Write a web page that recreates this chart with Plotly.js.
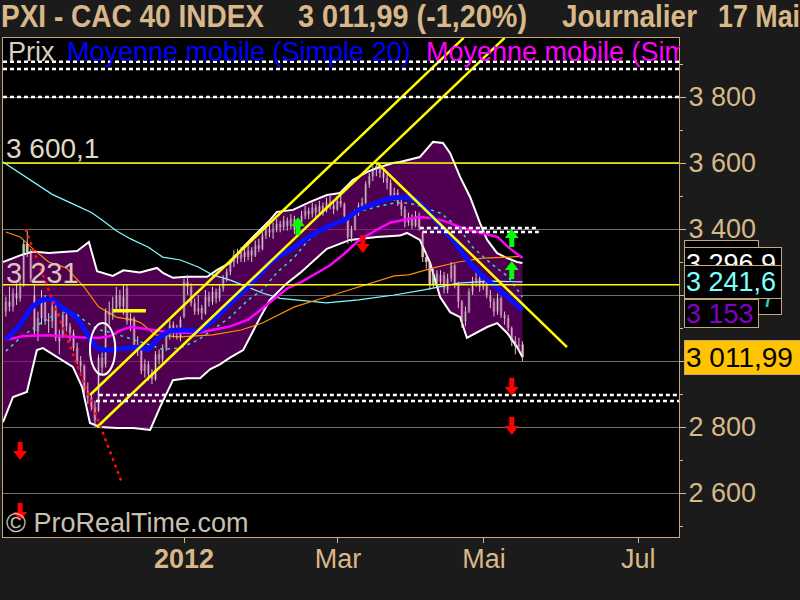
<!DOCTYPE html>
<html><head><meta charset="utf-8">
<script src="https://cdn.plot.ly/plotly-3.0.1.min.js"></script>
<style>html,body{margin:0;padding:0;background:#1b1b1b;overflow:hidden}#chart{width:800px;height:600px}</style>
</head><body><div id="chart"></div>
<script>
// ---------- DATA (daily bars, index 0 = 2 Jan 2012) ----------
const firstBar = -50;
const open = [3150,3180,3165,3205,3190,3230,3355,3330,3200,3090,
 3130,3190,3125,3120,3165,3060,3075,3140,3105,3085,
 3040,3000,2985,2910,2890,2860,2850,3010,2990,3150,
 3140,3160,3200,3165,3220,3120,3130,3050,3040,2970,
 2990,2960,2945,3020,3005,3040,3080,3110,3085,3070,
 3135,3240,3225,3175,3150,3160,3145,3195,3180,3210,
 3190,3220,3250,3270,3300,3320,3310,3330,3315,3335,
 3320,3350,3340,3380,3395,3390,3400,3415,3405,3425,
 3410,3430,3400,3420,3440,3455,3445,3465,3450,3470,
 3455,3480,3470,3460,3485,3475,3430,3375,3400,3450,
 3470,3480,3535,3560,3580,3590,3570,3555,3540,3500,
 3510,3480,3460,3420,3435,3410,3440,3390,3315,3300,
 3230,3265,3240,3260,3215,3250,3290,3230,3180,3120,
 3150,3210,3240,3250,3225,3240,3200,3180,3150,3190,
 3140,3130,3100,3060,3045,3050];
const high = [3195,3225,3220,3235,3240,3365,3395,3340,3230,3150,
 3215,3200,3145,3180,3175,3095,3150,3155,3115,3095,
 3055,3015,2990,2935,2905,2880,3020,3030,3160,3180,
 3195,3225,3215,3230,3230,3145,3135,3075,3045,3005,
 3000,2975,3030,3035,3050,3090,3130,3120,3110,3135,
 3250,3260,3235,3190,3200,3170,3215,3210,3225,3220,
 3230,3260,3280,3310,3335,3340,3345,3350,3360,3345,
 3365,3370,3390,3410,3415,3420,3430,3425,3440,3435,
 3445,3440,3430,3455,3470,3465,3480,3475,3485,3480,
 3495,3500,3485,3500,3505,3480,3440,3410,3460,3480,
 3495,3545,3570,3590,3600,3595,3585,3565,3550,3525,
 3520,3490,3470,3450,3445,3455,3450,3395,3330,3305,
 3280,3275,3275,3270,3265,3300,3295,3240,3185,3165,
 3220,3255,3270,3260,3255,3245,3215,3190,3205,3195,
 3150,3140,3105,3075,3070,3060];
const low = [3135,3150,3150,3170,3180,3225,3315,3240,3080,3060,
 3110,3110,3085,3100,3060,3020,3070,3090,3060,3030,
 2990,2965,2900,2870,2850,2800,2845,2960,2980,3110,
 3125,3150,3150,3140,3110,3090,3040,3015,2960,2950,
 2940,2930,2940,2990,2995,3030,3065,3070,3065,3060,
 3130,3200,3165,3140,3140,3125,3140,3165,3170,3175,
 3180,3210,3240,3260,3285,3295,3300,3300,3305,3300,
 3315,3330,3335,3370,3375,3370,3390,3390,3395,3395,
 3400,3385,3390,3410,3430,3430,3435,3435,3440,3440,
 3450,3460,3445,3455,3465,3430,3355,3360,3395,3440,
 3455,3475,3525,3545,3560,3555,3540,3520,3490,3485,
 3470,3440,3405,3410,3400,3405,3395,3300,3280,3215,
 3220,3225,3230,3205,3205,3240,3220,3160,3100,3105,
 3145,3200,3225,3210,3215,3190,3160,3135,3140,3130,
 3110,3090,3045,3020,3030,3000];
const close = [3180,3165,3205,3190,3225,3355,3330,3250,3090,3130,
 3190,3125,3120,3165,3070,3075,3140,3105,3085,3040,
 3000,2985,2910,2890,2860,2820,3010,2980,3150,3140,
 3160,3200,3165,3195,3120,3130,3050,3040,2970,2990,
 2960,2945,3020,3005,3040,3080,3110,3085,3100,3125,
 3240,3225,3175,3150,3160,3145,3195,3180,3210,3190,
 3220,3250,3270,3300,3320,3310,3330,3315,3335,3320,
 3350,3340,3380,3395,3390,3400,3415,3405,3425,3410,
 3430,3400,3420,3440,3455,3445,3465,3450,3470,3455,
 3480,3470,3460,3485,3475,3440,3375,3400,3450,3470,
 3480,3535,3560,3580,3590,3570,3555,3540,3500,3510,
 3480,3460,3420,3435,3410,3440,3405,3315,3300,3230,
 3265,3240,3260,3220,3250,3290,3230,3180,3120,3150,
 3210,3240,3250,3225,3240,3200,3180,3150,3190,3140,
 3130,3100,3060,3045,3050,3012];

// Moving averages
const sma20X = [-50,-46,-43,-40,-37,-34,-31,-29,-27,-25,-23,-20,-17,-13,-10,-7,-4,0,4,8,13,18,22,24,26,31,35,40,45,49,54,58,62,65,68,72,76,80,84,88,92,95];
const sma20Y = [3065,3110,3160,3185,3188,3160,3140,3115,3078,3045,3033,3035,3040,3042,3035,3070,3092,3095,3090,3120,3175,3224,3270,3297,3312,3345,3376,3406,3427,3458,3479,3494,3497,3490,3460,3410,3360,3300,3255,3220,3185,3155];
const sma50X = [-50,-45,-38,-30,-24,-21,-18,-15,-10,-5,0,4,8,13,18,22,25,29,33,37,41,45,49,54,58,62,66,70,74,78,84,88,91,95];
const sma50Y = [3064,3076,3078,3072,3070,3075,3092,3103,3096,3088,3086,3085,3094,3105,3125,3160,3185,3220,3240,3265,3290,3325,3365,3397,3420,3428,3436,3433,3421,3403,3388,3376,3345,3312];
const dashMaX = [-50,-46,-41,-37,-33,-30,-27,-24,-20,-17,-14,-10,-6,-1,4,8,13,18,22,26,31,35,40,45,49,54,59,63,67,72,77,81,86,91,95];
const dashMaY = [3030,3070,3110,3135,3150,3140,3115,3095,3085,3075,3065,3050,3035,3040,3064,3094,3133,3185,3215,3267,3315,3367,3406,3433,3452,3467,3479,3479,3467,3448,3406,3345,3297,3255,3194];
const orangeX = [-50,-46,-42,-38,-33,-28,-24,-19,-14,-12,-8,-1,8,16,22,31,40,49,59,63,70,77,84,91,95];
const orangeY = [3391,3376,3336,3300,3282,3224,3164,3133,3124,3115,3079,3073,3079,3094,3115,3164,3194,3224,3258,3261,3282,3300,3312,3315,3317];
const longMaX = [-50.8,-44,-37,-30,-26,-23,-19,-15,-10,-6,-1,4,8,13,18,22,27,31,40,49,59,67,77,86,95];
const longMaY = [3603,3555,3505,3470,3450,3427,3395,3370,3345,3315,3306,3285,3261,3245,3224,3206,3190,3185,3176,3185,3200,3215,3236,3242,3240];

// Bollinger bands
const bbUpX = [-50.8,-46,-42.4,-38,-30,-26.7,-24.4,-20,-17,-12.4,-7.6,-5.9,-3.1,0.8,6.5,9.3,12.9,16.6,20.5,24.1,26.1,30.6,35.4,40.1,43.8,47.4,51.4,54.2,58.7,60.6,66.2,69.9,72.7,74.7,77.5,80.3,83.1,85.1,87.9,90.7,93.5,95];
const bbUpY = [3300,3320,3332,3327,3333,3361,3272,3258,3275,3268,3282,3267,3252,3255,3255,3276,3297,3345,3388,3427,3452,3458,3482,3503,3509,3548,3573,3585,3600,3603,3618,3664,3661,3630,3558,3497,3418,3367,3327,3312,3300,3297];
const bbLoX = [-50.8,-48,-44.1,-41.3,-39.6,-35.6,-31.2,-28.6,-26.4,-23.6,-18.8,-14.3,-9.5,-6.7,-3.1,0.8,4.5,7.3,10.1,12.9,16.6,21.3,24.1,28.9,32.6,40.1,46.6,54.2,60.6,62.6,66.2,69.1,71.9,74.7,77.5,79.4,82.2,85.1,87.9,90.7,93.5,95];
const bbLoY = [2815,2891,2906,3033,3039,3012,2982,2921,2812,2800,2797,2797,2791,2861,2942,2948,2948,2975,2990,3010,3033,3130,3185,3236,3267,3340,3367,3376,3380,3388,3367,3297,3194,3148,3133,3070,3085,3103,3115,3085,3042,3012];

// Drawn objects
const level3600 = 3600.1, level3231 = 3231;
const channelUpX = [-26.4, 78.5], channelUpY = [2897, 3979];
const channelLoX = [-24.4, 90.0], channelLoY = [2800, 3979];
const downTrendX = [54.2, 107.5], downTrendY = [3600, 3042];
const shortSegX = [-19.9, -10.7], shortSegY = [3152, 3152];
const dottedFull = [3907, 3885, 3800];
const dottedMidX = [[66.2, 99.6],[67.1, 99.6]], dottedMidY = [3403, 3391];
const dottedLowX = [-23.9, -24.7], dottedLowY = [2897, 2879];
const redTrendX = [-44.5, -17.4], redTrendY = [3400, 2630];
const ellipseX = [-26.4, -19.3], ellipseY = [2958, 3115];
const upArrowX = [32, 92, 92], upArrowTip = [3436, 3400, 3303];
const downArrowX = [50.2, 92, 92, -46, -46], downArrowTip = [3327, 2894, 2776, 2700, 2515];

// Axis ticks
const xTickVals = [0, 43.2, 84.2, 127.5];
const xTickText = ['<b>2012</b>', 'Mar', 'Mai', 'Jul'];
const yTickVals = [2600, 2800, 3000, 3200, 3400, 3600, 3800];
const yTickText = ['2 600', '2 800', '3 000', '3 200', '3 400', '3 600', '3 800'];
const yMinorVals = [2500, 2700, 2900, 3100, 3300, 3500, 3700, 3900];

// ---------- CHART ----------
const xRange = [-50.81, 138.95], yRange = [2466.7, 3978.8];
const L = 3, R = 679, T = 38, B = 537, W = R - L, H = B - T;
const ptsPerPx = (yRange[1] - yRange[0]) / H;
const px = x => (x - L) / W, py = y => 1 - (y - T) / H;
const tan = '#d8b888', border = '#c8a878';
const sans = 'Liberation Sans, Arial, sans-serif';
const barX = close.map((_, k) => firstBar + k);

const traces = [];
traces.push({x: bbUpX.concat(bbLoX.slice().reverse()), y: bbUpY.concat(bbLoY.slice().reverse()),
  mode: 'lines', fill: 'toself', fillcolor: 'rgba(125,0,125,0.64)', line: {width: 0}, hoverinfo: 'skip'});
traces.push({x: bbUpX, y: bbUpY, mode: 'lines', line: {color: '#ffffff', width: 2}});
traces.push({x: bbLoX, y: bbLoY, mode: 'lines', line: {color: '#ffffff', width: 2}});
traces.push({x: longMaX, y: longMaY, mode: 'lines', line: {color: '#80ffff', width: 1.2}});
traces.push({x: orangeX, y: orangeY, mode: 'lines', line: {color: '#ff8c00', width: 1.2}});
// candles: wicks (low-high segments) then bodies (open-close)
const wickX = [], wickY = [];
barX.forEach((x, k) => { wickX.push(x, x, null); wickY.push(low[k], high[k], null); });
traces.push({x: wickX, y: wickY, mode: 'lines', line: {color: '#d4c8c8', width: 1}, hoverinfo: 'skip'});
traces.push({type: 'bar', x: barX, base: open, y: close.map((c, k) => c - open[k]), width: 0.78,
  marker: {color: close.map((c, k) => c >= open[k] ? '#70c070' : '#eaa0a0'), line: {width: 0}}, hoverinfo: 'skip'});
traces.push({x: dashMaX, y: dashMaY, mode: 'lines', line: {color: '#30d8d0', width: 1.5, dash: '3px,4px'}});
traces.push({x: sma50X, y: sma50Y, mode: 'lines', line: {color: '#ff00ff', width: 2.5}});
traces.push({x: sma20X, y: sma20Y, mode: 'lines', line: {color: '#0a10ff', width: 5}});
traces.push({x: xRange, y: [level3600, level3600], mode: 'lines', line: {color: '#ffff00', width: 1.5}});
traces.push({x: xRange, y: [level3231, level3231], mode: 'lines', line: {color: '#ffff00', width: 1.5}});
traces.push({x: channelUpX, y: channelUpY, mode: 'lines', line: {color: '#ffff00', width: 2.5}});
traces.push({x: channelLoX, y: channelLoY, mode: 'lines', line: {color: '#ffff00', width: 2.5}});
traces.push({x: downTrendX, y: downTrendY, mode: 'lines', line: {color: '#ffff00', width: 2.5}});
traces.push({x: shortSegX, y: shortSegY, mode: 'lines', line: {color: '#ffff00', width: 3.5}});
const dotLine = {color: '#ffffff', width: 2.5, dash: '4px,3px'};
dottedFull.forEach(v => traces.push({x: xRange, y: [v, v], mode: 'lines', line: dotLine}));
dottedMidY.forEach((v, k) => traces.push({x: dottedMidX[k], y: [v, v], mode: 'lines', line: dotLine}));
dottedLowY.forEach((v, k) => traces.push({x: [dottedLowX[k], xRange[1]], y: [v, v], mode: 'lines', line: dotLine}));
traces.push({x: redTrendX, y: redTrendY, mode: 'lines', line: {color: '#ff1010', width: 2.5, dash: '3px,4px'}});
traces.push({x: upArrowX, y: upArrowTip.map(v => v - 6 * ptsPerPx), mode: 'markers',
  marker: {symbol: 'triangle-up', size: 12, color: '#00ff00', line: {width: 0}}});
traces.push({x: upArrowX, y: upArrowTip.map(v => v - 12.5 * ptsPerPx), mode: 'markers',
  marker: {symbol: 'line-ns', size: 8, color: '#00ff00', line: {width: 5, color: '#00ff00'}}});
traces.push({x: downArrowX, y: downArrowTip.map(v => v + 6 * ptsPerPx), mode: 'markers',
  marker: {symbol: 'triangle-down', size: 12, color: '#ff0000', line: {width: 0}}});
traces.push({x: downArrowX, y: downArrowTip.map(v => v + 12.5 * ptsPerPx), mode: 'markers',
  marker: {symbol: 'line-ns', size: 8, color: '#ff0000', line: {width: 5, color: '#ff0000'}}});

function txt(text, x, y, size, color, extra) {
  return Object.assign({text: text, xref: 'paper', yref: 'paper', x: px(x), y: py(y), xanchor: 'left', yanchor: 'middle',
    showarrow: false, borderpad: 0, font: {family: sans, size: size, color: color}}, extra || {});
}
function box(text, left, top, w, h, color, bg, extra) {
  return Object.assign({text: text, xref: 'paper', yref: 'paper', x: px(left), y: py(top), xanchor: 'left', yanchor: 'top',
    width: w - 4, height: h - 4, align: 'left', valign: 'middle', bgcolor: bg, bordercolor: border, borderwidth: 1, borderpad: 1,
    showarrow: false, font: {family: sans, size: 27, color: color}}, extra || {});
}
const boldTitle = {family: sans, size: 32, color: tan, weight: 'bold'};
const titleParts = [['PXI - CAC 40 INDEX', 0, 263], ['3 011,99 (-1,20%)', 297, 229], ['Journalier', 561, 135], ['17 Mai', 717, 82]];

const annotations = titleParts.map(p => txt(p[0], p[1], 16, 32, tan, {font: boldTitle}));
annotations.push(
  txt('Prix', 7, 52, 27, '#d8d0c0'),
  txt('Moyenne mobile (Simple 20)', 66, 52, 27, '#0000ff'),
  txt('Moyenne mobile (Sim', 425, 52, 27, '#ff00ff', {width: 254, align: 'left'}),
  txt('3 600,1', 5, 148, 28, '#e0d8c8'),
  txt('3 231', 5, 273, 29, '#d8c8b8'),
  txt('© ProRealTime.com', 5, 523, 27, '#c8c0b0'),
  box('3 310,4', 684, 240, 75, 30, '#000000', '#000000'),
  box('3 296,9', 684, 247, 98, 34, '#ffffff', '#000000'),
  box('3 190,7', 684, 285, 98, 30, '#20d0b0', '#000000', {valign: 'bottom'}),
  box('3 241,6', 684, 265, 98, 34, '#80ffff', '#000000'),
  box('3 153', 684, 299, 75, 29, '#8000c8', '#000000'),
  box('3 011,99', 684, 340, 120, 35, '#000000', '#ffc400', {font: {family: sans, size: 28, color: '#000000'}})
);

const layout = {
  width: 800, height: 600,
  margin: {l: L, r: 800 - R, t: T, b: 600 - B, pad: 0},
  paper_bgcolor: '#1b1b1b', plot_bgcolor: '#000000',
  showlegend: false,
  xaxis: {range: xRange, showgrid: false, zeroline: false, tickmode: 'array', tickvals: xTickVals, ticktext: xTickText,
    ticks: 'outside', ticklen: 5, tickcolor: tan, tickfont: {family: sans, size: 27, color: tan}, ticklabelstandoff: -7,
    showline: true, linecolor: border, linewidth: 1, mirror: true, fixedrange: true},
  yaxis: {range: yRange, side: 'right', showgrid: true, gridcolor: '#707070', gridwidth: 1, zeroline: false,
    tickmode: 'array', tickvals: yTickVals, ticktext: yTickText, ticks: 'outside', ticklen: 6, tickcolor: tan, ticklabelstandoff: -3,
    tickfont: {family: sans, size: 27, color: tan}, showline: true, linecolor: border, linewidth: 1, mirror: true,
    minor: {tickmode: 'array', tickvals: yMinorVals, ticks: 'outside', ticklen: 3, tickcolor: tan, showgrid: false}, fixedrange: true},
  shapes: [{type: 'circle', xref: 'x', yref: 'y', x0: ellipseX[0], x1: ellipseX[1], y0: ellipseY[0], y1: ellipseY[1],
    line: {color: '#ffffff', width: 2}, layer: 'above'}],
  annotations: annotations
};

Plotly.newPlot('chart', traces, layout, {staticPlot: true, displayModeBar: false}).then(gd => {
  // condense the bold title pieces to the narrow width of the original
  gd.querySelectorAll('.annotation').forEach(g => {
    const idx = +g.getAttribute('data-index');
    if (idx < titleParts.length) {
      const t = g.querySelector('text.annotation-text');
      if (!t) return;
      const bb = t.getBBox();
      t.setAttribute('text-anchor', 'start');
      t.setAttribute('x', bb.x);
      t.setAttribute('textLength', titleParts[idx][2]);
      t.setAttribute('lengthAdjust', 'spacingAndGlyphs');
    }
  });
});
</script></body></html>
